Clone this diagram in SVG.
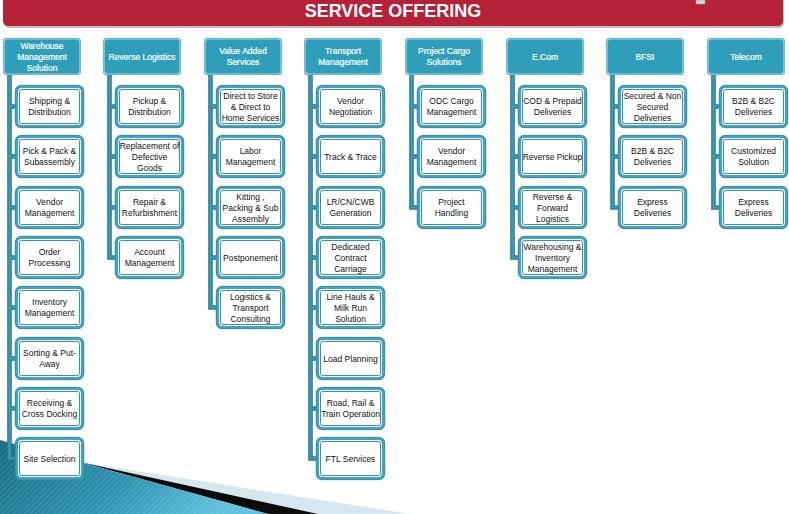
<svg xmlns="http://www.w3.org/2000/svg" xmlns:xlink="http://www.w3.org/1999/xlink" width="789" height="514" viewBox="0 0 789 514">
<style>
  .ht{font-family:"Liberation Sans",Arial,sans-serif;font-size:8.5px;fill:#ffffff;text-anchor:middle;font-weight:normal;stroke:#ffffff;stroke-width:0.2}
  .bt{font-family:"Liberation Sans",Arial,sans-serif;font-size:8.5px;fill:#111111;text-anchor:middle}
  .co{fill:none;stroke:#2A7890;stroke-width:4.6;stroke-linejoin:miter}
  .ci{fill:none;stroke:#3E9BB6;stroke-width:2.2;stroke-linejoin:miter}
  .title{font-family:"Liberation Sans",Arial,sans-serif;font-size:18px;font-weight:bold;fill:#ffffff;text-anchor:middle}
</style>
<defs>
  <linearGradient id="blueG" x1="0" y1="0" x2="1" y2="0.3">
    <stop offset="0" stop-color="#17697F"/>
    <stop offset="0.6" stop-color="#2F94B3"/>
    <stop offset="1" stop-color="#5EC0DC"/>
  </linearGradient>
  <pattern id="stripes" width="4" height="4" patternUnits="userSpaceOnUse" patternTransform="rotate(45)">
    <rect width="1.2" height="4" fill="#ffffff" fill-opacity="0.12"/>
  </pattern>
  <g id="box">
    <rect x="1.5" y="1.5" width="66" height="40" rx="5" fill="#ffffff" stroke="#44A3BE" stroke-width="3.2"/>
    <rect x="0.3" y="0.3" width="68.4" height="42.4" rx="6" fill="none" stroke="#2C84A0" stroke-width="0.7"/>
    <rect x="4.5" y="4.5" width="60" height="34" rx="2" fill="none" stroke="#3590AB" stroke-width="1"/>
  </g>
  <g id="hdr">
    <rect x="0" y="0" width="78" height="37" rx="4" fill="#2A8FAB"/>
    <rect x="1" y="1" width="76" height="35" rx="3.5" fill="#2E9EBB" stroke="#A4DAE7" stroke-width="1.2"/>
  </g>
  <path id="p1" d="M9.5 75V458.5H16M9.5 106.5H16M9.5 156.5H16M9.5 207.5H16M9.5 257.5H16M9.5 307.5H16M9.5 358.5H16M9.5 408.5H16"/>
  <path id="p2" d="M109.5 75V257.5H116M109.5 106.5H116M109.5 156.5H116M109.5 207.5H116"/>
  <path id="p3" d="M210.5 75V307.5H217M210.5 106.5H217M210.5 156.5H217M210.5 207.5H217M210.5 257.5H217"/>
  <path id="p4" d="M310.5 75V458.5H317M310.5 106.5H317M310.5 156.5H317M310.5 207.5H317M310.5 257.5H317M310.5 307.5H317M310.5 358.5H317M310.5 408.5H317"/>
  <path id="p5" d="M411.5 75V207.5H418M411.5 106.5H418M411.5 156.5H418"/>
  <path id="p6" d="M512.5 75V257.5H519M512.5 106.5H519M512.5 156.5H519M512.5 207.5H519"/>
  <path id="p7" d="M612.5 75V207.5H619M612.5 106.5H619M612.5 156.5H619"/>
  <path id="p8" d="M713.5 75V207.5H720M713.5 106.5H720M713.5 156.5H720"/>
</defs>

<rect width="789" height="514" fill="#ffffff"/>

<!-- bottom-left decoration -->
<g id="decoration">
  <polygon points="80,462 410,514 318,514" fill="#D5E8EF"/>
  <polygon points="80,462 318,514 268,514" fill="#0B0B0B"/>
  <polygon points="0,440 268,514 0,514" fill="url(#blueG)"/>
  <polygon points="0,440 268,514 0,514" fill="url(#stripes)"/>
</g>

<!-- title banner -->
<g id="title">
  <rect x="4" y="-6" width="780" height="34" rx="5" fill="#8A8A8A" fill-opacity="0.55"/>
  <rect x="3" y="-8" width="780" height="34" rx="5" fill="#B52136"/>
  <text class="title" x="393" y="17">SERVICE OFFERING</text>
  <rect x="696" y="0" width="9" height="4" fill="#D8D8D8" stroke="#9A9A9A" stroke-width="0.6"/>
</g>

<g id="connectors">
  <use xlink:href="#p1" class="co"/><use xlink:href="#p1" class="ci"/>
  <use xlink:href="#p2" class="co"/><use xlink:href="#p2" class="ci"/>
  <use xlink:href="#p3" class="co"/><use xlink:href="#p3" class="ci"/>
  <use xlink:href="#p4" class="co"/><use xlink:href="#p4" class="ci"/>
  <use xlink:href="#p5" class="co"/><use xlink:href="#p5" class="ci"/>
  <use xlink:href="#p6" class="co"/><use xlink:href="#p6" class="ci"/>
  <use xlink:href="#p7" class="co"/><use xlink:href="#p7" class="ci"/>
  <use xlink:href="#p8" class="co"/><use xlink:href="#p8" class="ci"/>
</g>

<!-- headers -->
<g id="h1" transform="translate(3,38)"><use xlink:href="#hdr"/><text class="ht" x="39" y="10.5">Warehouse</text><text class="ht" x="39" y="21.5">Management</text><text class="ht" x="39" y="32.5">Solution</text></g>
<g id="h2" transform="translate(103,38)"><use xlink:href="#hdr"/><text class="ht" x="39" y="21.5">Reverse Logistics</text></g>
<g id="h3" transform="translate(204,38)"><use xlink:href="#hdr"/><text class="ht" x="39" y="16">Value Added</text><text class="ht" x="39" y="27">Services</text></g>
<g id="h4" transform="translate(304,38)"><use xlink:href="#hdr"/><text class="ht" x="39" y="16">Transport</text><text class="ht" x="39" y="27">Management</text></g>
<g id="h5" transform="translate(405,38)"><use xlink:href="#hdr"/><text class="ht" x="39" y="16">Project Cargo</text><text class="ht" x="39" y="27">Solutions</text></g>
<g id="h6" transform="translate(506,38)"><use xlink:href="#hdr"/><text class="ht" x="39" y="21.5">E.Com</text></g>
<g id="h7" transform="translate(606,38)"><use xlink:href="#hdr"/><text class="ht" x="39" y="21.5">BFSI</text></g>
<g id="h8" transform="translate(707,38)"><use xlink:href="#hdr"/><text class="ht" x="39" y="21.5">Telecom</text></g>

<!-- column 1 -->
<g id="c1_1" transform="translate(15,85)"><use xlink:href="#box"/><text class="bt" x="34.5" y="19">Shipping &amp;</text><text class="bt" x="34.5" y="30">Distribution</text></g>
<g id="c1_2" transform="translate(15,135)"><use xlink:href="#box"/><text class="bt" x="34.5" y="19">Pick &amp; Pack &amp;</text><text class="bt" x="34.5" y="30">Subassembly</text></g>
<g id="c1_3" transform="translate(15,186)"><use xlink:href="#box"/><text class="bt" x="34.5" y="19">Vendor</text><text class="bt" x="34.5" y="30">Management</text></g>
<g id="c1_4" transform="translate(15,236)"><use xlink:href="#box"/><text class="bt" x="34.5" y="19">Order</text><text class="bt" x="34.5" y="30">Processing</text></g>
<g id="c1_5" transform="translate(15,286)"><use xlink:href="#box"/><text class="bt" x="34.5" y="19">Inventory</text><text class="bt" x="34.5" y="30">Management</text></g>
<g id="c1_6" transform="translate(15,337)"><use xlink:href="#box"/><text class="bt" x="34.5" y="19">Sorting &amp; Put-</text><text class="bt" x="34.5" y="30">Away</text></g>
<g id="c1_7" transform="translate(15,387)"><use xlink:href="#box"/><text class="bt" x="34.5" y="19">Receiving &amp;</text><text class="bt" x="34.5" y="30">Cross Docking</text></g>
<g id="c1_8" transform="translate(15,437)"><use xlink:href="#box"/><text class="bt" x="34.5" y="24.5">Site Selection</text></g>

<!-- column 2 -->
<g id="c2_1" transform="translate(115,85)"><use xlink:href="#box"/><text class="bt" x="34.5" y="19">Pickup &amp;</text><text class="bt" x="34.5" y="30">Distribution</text></g>
<g id="c2_2" transform="translate(115,135)"><use xlink:href="#box"/><text class="bt" x="34.5" y="13.5">Replacement of</text><text class="bt" x="34.5" y="24.5">Defective</text><text class="bt" x="34.5" y="35.5">Goods</text></g>
<g id="c2_3" transform="translate(115,186)"><use xlink:href="#box"/><text class="bt" x="34.5" y="19">Repair &amp;</text><text class="bt" x="34.5" y="30">Refurbishment</text></g>
<g id="c2_4" transform="translate(115,236)"><use xlink:href="#box"/><text class="bt" x="34.5" y="19">Account</text><text class="bt" x="34.5" y="30">Management</text></g>

<!-- column 3 -->
<g id="c3_1" transform="translate(216,85)"><use xlink:href="#box"/><text class="bt" x="34.5" y="13.5">Direct to Store</text><text class="bt" x="34.5" y="24.5">&amp; Direct to</text><text class="bt" x="34.5" y="35.5">Home Services</text></g>
<g id="c3_2" transform="translate(216,135)"><use xlink:href="#box"/><text class="bt" x="34.5" y="19">Labor</text><text class="bt" x="34.5" y="30">Management</text></g>
<g id="c3_3" transform="translate(216,186)"><use xlink:href="#box"/><text class="bt" x="34.5" y="13.5">Kitting ,</text><text class="bt" x="34.5" y="24.5">Packing &amp; Sub</text><text class="bt" x="34.5" y="35.5">Assembly</text></g>
<g id="c3_4" transform="translate(216,236)"><use xlink:href="#box"/><text class="bt" x="34.5" y="24.5">Postponement</text></g>
<g id="c3_5" transform="translate(216,286)"><use xlink:href="#box"/><text class="bt" x="34.5" y="13.5">Logistics &amp;</text><text class="bt" x="34.5" y="24.5">Transport</text><text class="bt" x="34.5" y="35.5">Consulting</text></g>

<!-- column 4 -->
<g id="c4_1" transform="translate(316,85)"><use xlink:href="#box"/><text class="bt" x="34.5" y="19">Vendor</text><text class="bt" x="34.5" y="30">Negotiation</text></g>
<g id="c4_2" transform="translate(316,135)"><use xlink:href="#box"/><text class="bt" x="34.5" y="24.5">Track &amp; Trace</text></g>
<g id="c4_3" transform="translate(316,186)"><use xlink:href="#box"/><text class="bt" x="34.5" y="19">LR/CN/CWB</text><text class="bt" x="34.5" y="30">Generation</text></g>
<g id="c4_4" transform="translate(316,236)"><use xlink:href="#box"/><text class="bt" x="34.5" y="13.5">Dedicated</text><text class="bt" x="34.5" y="24.5">Contract</text><text class="bt" x="34.5" y="35.5">Carriage</text></g>
<g id="c4_5" transform="translate(316,286)"><use xlink:href="#box"/><text class="bt" x="34.5" y="13.5">Line Hauls &amp;</text><text class="bt" x="34.5" y="24.5">Milk Run</text><text class="bt" x="34.5" y="35.5">Solution</text></g>
<g id="c4_6" transform="translate(316,337)"><use xlink:href="#box"/><text class="bt" x="34.5" y="24.5">Load Planning</text></g>
<g id="c4_7" transform="translate(316,387)"><use xlink:href="#box"/><text class="bt" x="34.5" y="19">Road, Rail &amp;</text><text class="bt" x="34.5" y="30">Train Operation</text></g>
<g id="c4_8" transform="translate(316,437)"><use xlink:href="#box"/><text class="bt" x="34.5" y="24.5">FTL Services</text></g>

<!-- column 5 -->
<g id="c5_1" transform="translate(417,85)"><use xlink:href="#box"/><text class="bt" x="34.5" y="19">ODC Cargo</text><text class="bt" x="34.5" y="30">Management</text></g>
<g id="c5_2" transform="translate(417,135)"><use xlink:href="#box"/><text class="bt" x="34.5" y="19">Vendor</text><text class="bt" x="34.5" y="30">Management</text></g>
<g id="c5_3" transform="translate(417,186)"><use xlink:href="#box"/><text class="bt" x="34.5" y="19">Project</text><text class="bt" x="34.5" y="30">Handling</text></g>

<!-- column 6 -->
<g id="c6_1" transform="translate(518,85)"><use xlink:href="#box"/><text class="bt" x="34.5" y="19">COD &amp; Prepaid</text><text class="bt" x="34.5" y="30">Deliveries</text></g>
<g id="c6_2" transform="translate(518,135)"><use xlink:href="#box"/><text class="bt" x="34.5" y="24.5">Reverse Pickup</text></g>
<g id="c6_3" transform="translate(518,186)"><use xlink:href="#box"/><text class="bt" x="34.5" y="13.5">Reverse &amp;</text><text class="bt" x="34.5" y="24.5">Forward</text><text class="bt" x="34.5" y="35.5">Logistics</text></g>
<g id="c6_4" transform="translate(518,236)"><use xlink:href="#box"/><text class="bt" x="34.5" y="13.5">Warehousing &amp;</text><text class="bt" x="34.5" y="24.5">Inventory</text><text class="bt" x="34.5" y="35.5">Management</text></g>

<!-- column 7 -->
<g id="c7_1" transform="translate(618,85)"><use xlink:href="#box"/><text class="bt" x="34.5" y="13.5">Secured &amp; Non</text><text class="bt" x="34.5" y="24.5">Secured</text><text class="bt" x="34.5" y="35.5">Deliveries</text></g>
<g id="c7_2" transform="translate(618,135)"><use xlink:href="#box"/><text class="bt" x="34.5" y="19">B2B &amp; B2C</text><text class="bt" x="34.5" y="30">Deliveries</text></g>
<g id="c7_3" transform="translate(618,186)"><use xlink:href="#box"/><text class="bt" x="34.5" y="19">Express</text><text class="bt" x="34.5" y="30">Deliveries</text></g>

<!-- column 8 -->
<g id="c8_1" transform="translate(719,85)"><use xlink:href="#box"/><text class="bt" x="34.5" y="19">B2B &amp; B2C</text><text class="bt" x="34.5" y="30">Deliveries</text></g>
<g id="c8_2" transform="translate(719,135)"><use xlink:href="#box"/><text class="bt" x="34.5" y="19">Customized</text><text class="bt" x="34.5" y="30">Solution</text></g>
<g id="c8_3" transform="translate(719,186)"><use xlink:href="#box"/><text class="bt" x="34.5" y="19">Express</text><text class="bt" x="34.5" y="30">Deliveries</text></g>
</svg>
